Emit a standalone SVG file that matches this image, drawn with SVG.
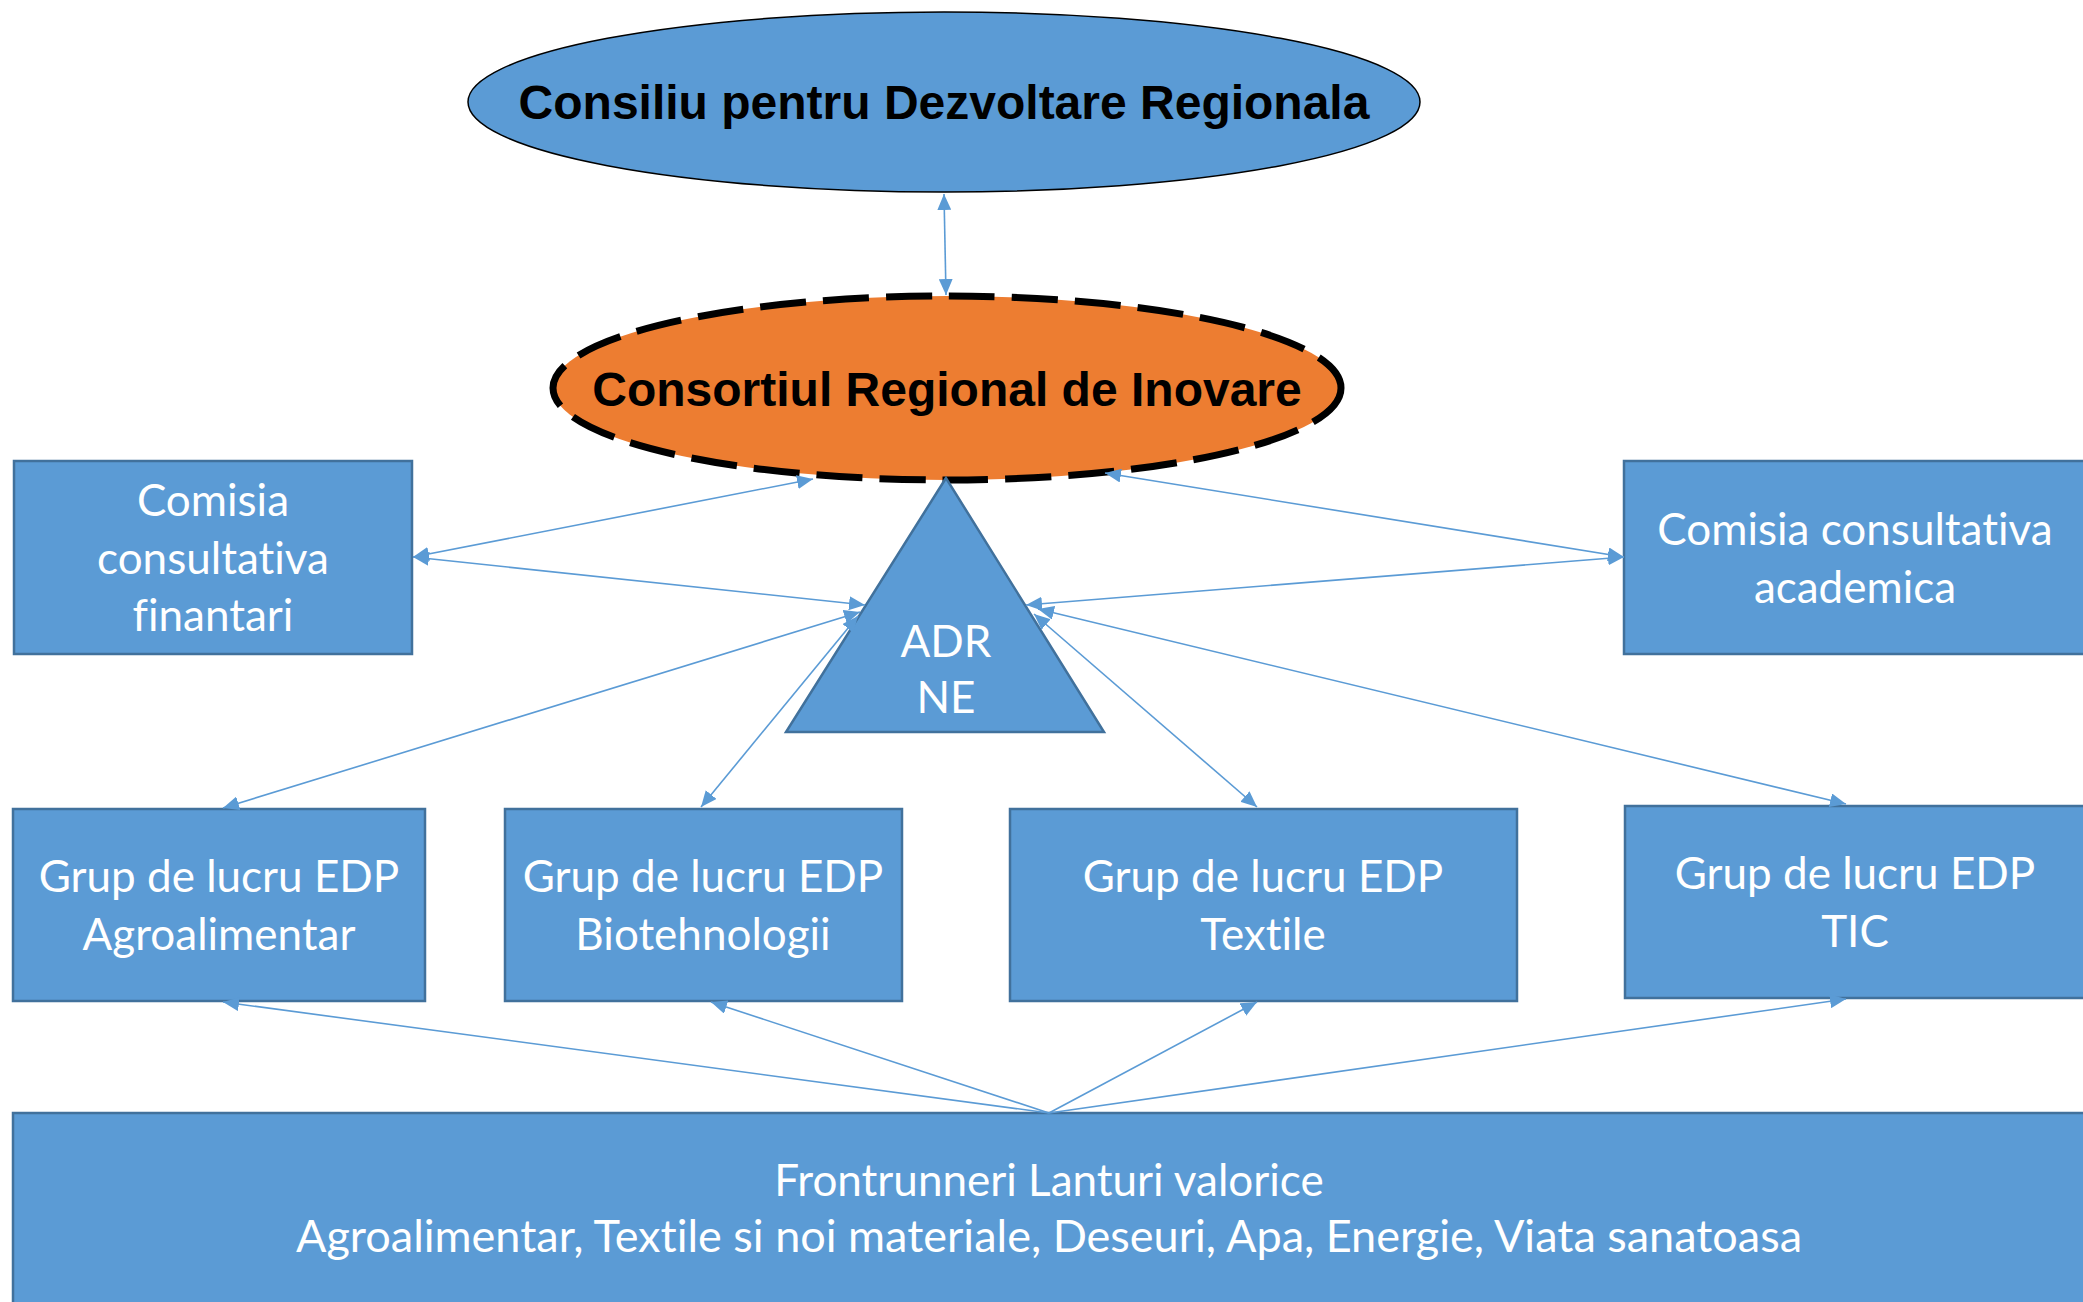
<svg xmlns="http://www.w3.org/2000/svg" width="2083" height="1302" viewBox="0 0 2083 1302">
<defs>
<style>
.box{fill:#5B9BD5;stroke:#41719C;stroke-width:2.5}
.lbl{font-family:Lato,"Open Sans","Liberation Sans",sans-serif;font-size:44px;fill:#FFFFFF;text-anchor:middle;font-variant-ligatures:none}
.ttl{font-family:"Liberation Sans",Arial,sans-serif;font-weight:bold;font-size:48px;fill:#000000;text-anchor:middle}
.con{stroke:#5B9BD5;stroke-width:1.6;fill:none}
.bi{marker-start:url(#ah);marker-end:url(#ah)}
.one{marker-end:url(#ah)}
</style>
<marker id="ah" viewBox="0 0 16 14" refX="16" refY="7" markerWidth="16" markerHeight="14" markerUnits="userSpaceOnUse" orient="auto-start-reverse">
<path d="M0,0 L16,7 L0,14 z" fill="#5B9BD5"/>
</marker>
</defs>
<rect width="2083" height="1302" fill="#FFFFFF"/>

<g id="cdr">
<ellipse cx="944" cy="102" rx="476" ry="90" fill="#5B9BD5" stroke="#000000" stroke-width="1.5"/>
<text class="ttl" x="944" y="119">Consiliu pentru Dezvoltare Regionala</text>
</g>

<g id="cri">
<ellipse cx="947" cy="388" rx="394" ry="92" fill="#ED7D31" stroke="#000000" stroke-width="7" stroke-dasharray="46 17"/>
<text class="ttl" x="947" y="406">Consortiul Regional de Inovare</text>
</g>

<g id="adr">
<polygon points="946,478 786,732 1104,732" class="box"/>
<text class="lbl" x="946" y="657">ADR</text>
<text class="lbl" x="946" y="713">NE</text>
</g>

<g id="comisia-finantari">
<rect x="14" y="461" width="398" height="193" class="box"/>
<text class="lbl" x="213" y="516">Comisia</text>
<text class="lbl" x="213" y="574">consultativa</text>
<text class="lbl" x="213" y="631">finantari</text>
</g>

<g id="comisia-academica">
<rect x="1624" y="461" width="470" height="193" class="box"/>
<text class="lbl" x="1855" y="545">Comisia consultativa</text>
<text class="lbl" x="1855" y="603">academica</text>
</g>

<g id="grup-agro">
<rect x="13" y="809" width="412" height="192" class="box"/>
<text class="lbl" x="219" y="892">Grup de lucru EDP</text>
<text class="lbl" x="219" y="950">Agroalimentar</text>
</g>

<g id="grup-bio">
<rect x="505" y="809" width="397" height="192" class="box"/>
<text class="lbl" x="703" y="892">Grup de lucru EDP</text>
<text class="lbl" x="703" y="950">Biotehnologii</text>
</g>

<g id="grup-textile">
<rect x="1010" y="809" width="507" height="192" class="box"/>
<text class="lbl" x="1263" y="892">Grup de lucru EDP</text>
<text class="lbl" x="1263" y="950">Textile</text>
</g>

<g id="grup-tic">
<rect x="1625" y="806" width="470" height="192" class="box"/>
<text class="lbl" x="1855" y="889">Grup de lucru EDP</text>
<text class="lbl" x="1855" y="947">TIC</text>
</g>

<g id="frontrunneri">
<rect x="13" y="1113" width="2080" height="200" class="box"/>
<text class="lbl" x="1049" y="1196">Frontrunneri Lanturi valorice</text>
<text class="lbl" x="1049" y="1252" style="font-size:45px">Agroalimentar, Textile si noi materiale, Deseuri, Apa, Energie, Viata sanatoasa</text>
</g>

<g id="connectors">
<line class="con bi" x1="944" y1="194" x2="946" y2="295"/>
<line class="con bi" x1="413" y1="557" x2="813" y2="479"/>
<line class="con bi" x1="413" y1="557" x2="865" y2="605"/>
<line class="con bi" x1="223" y1="808" x2="860" y2="612"/>
<line class="con bi" x1="701" y1="807" x2="858" y2="616"/>
<line class="con bi" x1="1624" y1="557" x2="1105" y2="473"/>
<line class="con bi" x1="1624" y1="557" x2="1026" y2="605"/>
<line class="con bi" x1="1257" y1="807" x2="1034" y2="614"/>
<line class="con bi" x1="1846" y1="804" x2="1038" y2="609"/>
<line class="con one" x1="1049" y1="1113" x2="223" y2="1002"/>
<line class="con one" x1="1049" y1="1113" x2="711" y2="1002"/>
<line class="con one" x1="1049" y1="1113" x2="1257" y2="1002"/>
<line class="con one" x1="1049" y1="1113" x2="1846" y2="999"/>
</g>
</svg>
